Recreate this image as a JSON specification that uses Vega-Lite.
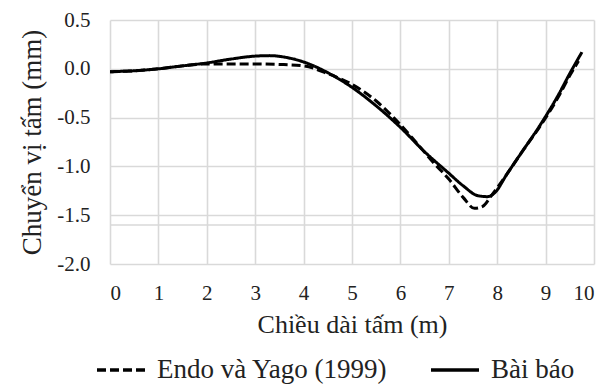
{
  "$schema": "https://vega.github.io/schema/vega-lite/v6.json",
  "width": 484,
  "height": 244,
  "autosize": "none",
  "padding": {"left": 110, "top": 20, "right": 12, "bottom": 121},
  "background": "white",
  "config": {
    "font": "Liberation Serif, Times New Roman, serif",
    "view": {"stroke": null},
    "axis": {
      "grid": true,
      "gridColor": "#d9d9d9",
      "gridWidth": 1.6,
      "domain": false,
      "ticks": false,
      "tickSize": 0,
      "labelFont": "Liberation Serif, Times New Roman, serif",
      "labelFontSize": 21,
      "labelColor": "#222222",
      "titleFont": "Liberation Serif, Times New Roman, serif",
      "titleFontSize": 26,
      "titleFontWeight": "normal",
      "titleColor": "#222222"
    },
    "legend": {
      "labelFont": "Liberation Serif, Times New Roman, serif",
      "labelFontSize": 27,
      "labelColor": "#222222",
      "labelLimit": 0
    }
  },
  "datasets": {
    "curves": [
      {"x": 0, "y": -0.03, "series": "Bài báo"},
      {"x": 0.5, "y": -0.02, "series": "Bài báo"},
      {"x": 1, "y": 0.0, "series": "Bài báo"},
      {"x": 1.5, "y": 0.03, "series": "Bài báo"},
      {"x": 2, "y": 0.06, "series": "Bài báo"},
      {"x": 2.5, "y": 0.1, "series": "Bài báo"},
      {"x": 3, "y": 0.13, "series": "Bài báo"},
      {"x": 3.3, "y": 0.135, "series": "Bài báo"},
      {"x": 3.6, "y": 0.12, "series": "Bài báo"},
      {"x": 4, "y": 0.07, "series": "Bài báo"},
      {"x": 4.5, "y": -0.04, "series": "Bài báo"},
      {"x": 5, "y": -0.19, "series": "Bài báo"},
      {"x": 5.5, "y": -0.38, "series": "Bài báo"},
      {"x": 6, "y": -0.6, "series": "Bài báo"},
      {"x": 6.5, "y": -0.85, "series": "Bài báo"},
      {"x": 7, "y": -1.07, "series": "Bài báo"},
      {"x": 7.3, "y": -1.2, "series": "Bài báo"},
      {"x": 7.6, "y": -1.3, "series": "Bài báo"},
      {"x": 7.8, "y": -1.31, "series": "Bài báo"},
      {"x": 7.95, "y": -1.27, "series": "Bài báo"},
      {"x": 8.2, "y": -1.08, "series": "Bài báo"},
      {"x": 8.5, "y": -0.86, "series": "Bài báo"},
      {"x": 8.87, "y": -0.59, "series": "Bài báo"},
      {"x": 9.25, "y": -0.28, "series": "Bài báo"},
      {"x": 9.52, "y": -0.03, "series": "Bài báo"},
      {"x": 9.75, "y": 0.17, "series": "Bài báo"},
      {"x": 0, "y": -0.03, "series": "Endo và Yago (1999)"},
      {"x": 0.5, "y": -0.02, "series": "Endo và Yago (1999)"},
      {"x": 1, "y": 0.0, "series": "Endo và Yago (1999)"},
      {"x": 1.5, "y": 0.03, "series": "Endo và Yago (1999)"},
      {"x": 2, "y": 0.05, "series": "Endo và Yago (1999)"},
      {"x": 2.5, "y": 0.05, "series": "Endo và Yago (1999)"},
      {"x": 3, "y": 0.05, "series": "Endo và Yago (1999)"},
      {"x": 3.5, "y": 0.045, "series": "Endo và Yago (1999)"},
      {"x": 4, "y": 0.03, "series": "Endo và Yago (1999)"},
      {"x": 4.5, "y": -0.05, "series": "Endo và Yago (1999)"},
      {"x": 5, "y": -0.16, "series": "Endo và Yago (1999)"},
      {"x": 5.5, "y": -0.33, "series": "Endo và Yago (1999)"},
      {"x": 5.9, "y": -0.52, "series": "Endo và Yago (1999)"},
      {"x": 6.3, "y": -0.74, "series": "Endo và Yago (1999)"},
      {"x": 6.7, "y": -0.97, "series": "Endo và Yago (1999)"},
      {"x": 7, "y": -1.13, "series": "Endo và Yago (1999)"},
      {"x": 7.3, "y": -1.32, "series": "Endo và Yago (1999)"},
      {"x": 7.53, "y": -1.43, "series": "Endo và Yago (1999)"},
      {"x": 7.7, "y": -1.41, "series": "Endo và Yago (1999)"},
      {"x": 7.88, "y": -1.3, "series": "Endo và Yago (1999)"},
      {"x": 8.2, "y": -1.08, "series": "Endo và Yago (1999)"},
      {"x": 8.5, "y": -0.86, "series": "Endo và Yago (1999)"},
      {"x": 8.87, "y": -0.6, "series": "Endo và Yago (1999)"},
      {"x": 9.25, "y": -0.3, "series": "Endo và Yago (1999)"},
      {"x": 9.5, "y": -0.07, "series": "Endo và Yago (1999)"},
      {"x": 9.68, "y": 0.08, "series": "Endo và Yago (1999)"}
    ],
    "extra": [{"y": -1.6}]
  },
  "layer": [
    {
      "data": {"name": "extra"},
      "mark": {"type": "rule", "color": "#d9d9d9", "strokeWidth": 1.6},
      "encoding": {"y": {"field": "y", "type": "quantitative"}}
    },
    {
      "data": {"name": "curves"},
      "mark": {"type": "line", "color": "black", "strokeWidth": 3, "interpolate": "monotone"},
      "encoding": {
        "x": {
          "field": "x", "type": "quantitative",
          "scale": {"domain": [0, 10], "nice": false, "zero": false},
          "axis": {"values": [0,1,2,3,4,5,6,7,8,9,10], "title": "Chiều dài tấm (m)", "labelPadding": 18, "titlePadding": 8}
        },
        "y": {
          "field": "y", "type": "quantitative",
          "scale": {"domain": [-2, 0.5], "nice": false, "zero": false},
          "axis": {
            "values": [-2, -1.5, -1, -0.5, 0, 0.5],
            "labelExpr": "datum.value < 0 ? '-' + format(-datum.value, '.1f') : format(datum.value, '.1f')",
            "title": "Chuyển vị tấm (mm)", "titleFontSize": 27, "labelPadding": 20, "titlePadding": 10
          }
        },
        "strokeDash": {
          "field": "series", "type": "nominal",
          "scale": {"domain": ["Endo và Yago (1999)", "Bài báo"], "range": [[9, 4], [1, 0]]},
          "legend": {
            "title": null,
            "orient": "none",
            "direction": "horizontal",
            "legendX": -15,
            "legendY": 324,
            "symbolType": "stroke",
            "symbolSize": 2304,
            "symbolStrokeWidth": 3.5,
            "symbolStrokeColor": "black",
            "labelOffset": 10,
            "columnPadding": 36
          }
        }
      }
    }
  ]
}
